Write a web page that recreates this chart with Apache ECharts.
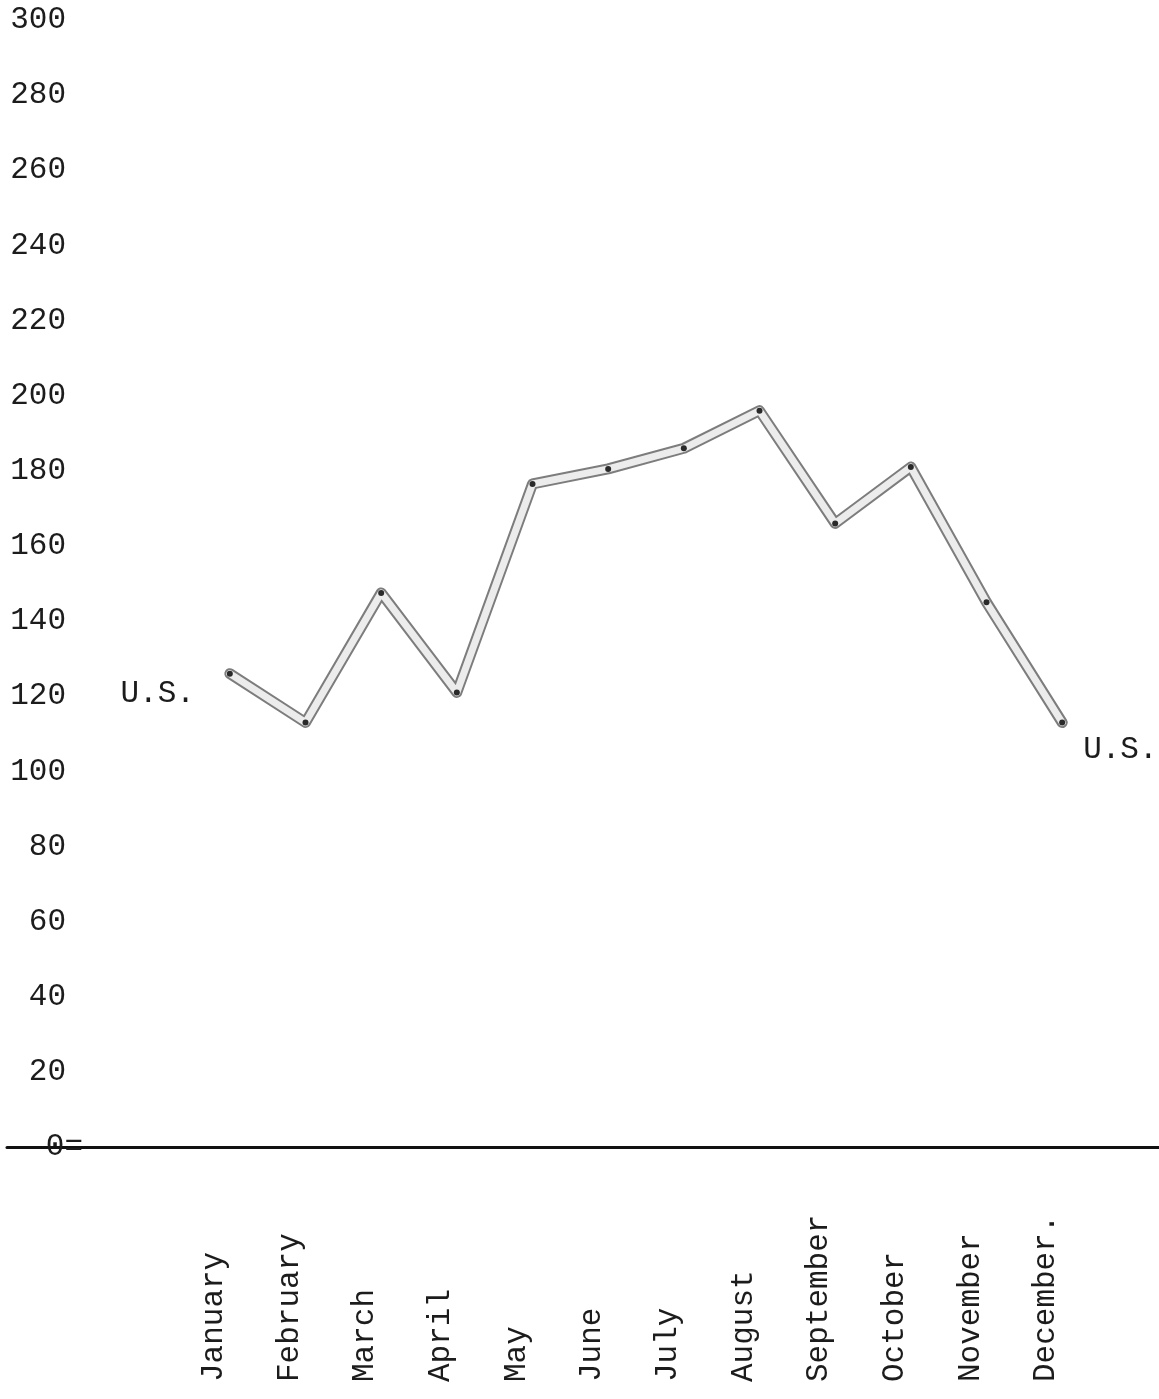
<!DOCTYPE html>
<html>
<head>
<meta charset="utf-8">
<script src="https://cdn.jsdelivr.net/npm/echarts@6/dist/echarts.min.js"></script>
<style>
  html, body { margin: 0; padding: 0; background: #fff; }
  #chart { width: 1159px; height: 1399px; }
</style>
</head>
<body>
<div id="chart"></div>
<script>
// months along the bottom, typed as in the original
const months = ['January', 'February', 'March', 'April', 'May', 'June',
  'July', 'August', 'September', 'October', 'November', 'December.'];

// U.S. monthly values
const usValues = [126, 113, 147.5, 121, 176.5, 180.5, 186, 196, 166, 181, 145, 113];

const seriesLabel = 'U.S.';

const yMin = 0;
const yMax = 300;
const yStep = 20;

const MONO = "'Liberation Mono', 'DejaVu Sans Mono', monospace";
const INK = '#1c1c1c';

const chart = echarts.init(document.getElementById('chart'));

// first and last point carry the "U.S." tag
const innerData = usValues.map((v, i) => {
  if (i === 0) {
    return {
      value: v,
      label: { show: true, position: 'left', distance: 32, offset: [0, 20], formatter: seriesLabel },
    };
  }
  if (i === usValues.length - 1) {
    return {
      value: v,
      label: { show: true, position: 'right', distance: 18, offset: [0, 27], formatter: seriesLabel },
    };
  }
  return v;
});

const option = {
  animation: false,
  backgroundColor: '#ffffff',
  textStyle: { fontFamily: MONO, color: INK },
  grid: [
    { left: 192, right: 59, top: 20, bottom: 252 },
    { left: 7, right: 0, top: 20, bottom: 252 },
  ],
  xAxis: [
    {
      type: 'category',
      gridIndex: 0,
      data: months,
      boundaryGap: true,
      axisLine: { show: false },
      axisTick: { show: false },
      splitLine: { show: false },
      axisLabel: {
        interval: 0,
        rotate: 90,
        margin: 20,
        color: INK,
        fontFamily: MONO,
        fontSize: 31,
        formatter: (v) => '{m|' + v + '}',
        rich: {
          m: {
            width: 215,
            align: 'left',
            padding: [0, 0, 32, 0],
            fontFamily: MONO,
            fontSize: 31,
            color: INK,
          },
        },
      },
    },
    {
      // the long base line across the sheet
      type: 'value',
      gridIndex: 1,
      min: 0,
      max: 1,
      axisLine: { show: true, lineStyle: { color: '#111', width: 3 } },
      axisTick: { show: false },
      axisLabel: { show: false },
      splitLine: { show: false },
    },
  ],
  yAxis: [
    {
      type: 'value',
      gridIndex: 0,
      min: yMin,
      max: yMax,
      interval: yStep,
      axisLine: { show: false },
      axisTick: { show: false },
      splitLine: { show: false },
      axisLabel: {
        margin: 109,
        color: INK,
        fontFamily: MONO,
        fontSize: 31,
        formatter: (v) => (v === 0 ? '{z|0=}' : '{n|' + v + '}'),
        rich: {
          n: { padding: [0, 17, 0, 0], fontFamily: MONO, fontSize: 31, color: INK },
          z: { fontFamily: MONO, fontSize: 31, color: INK },
        },
      },
    },
    { type: 'value', gridIndex: 1, show: false, min: 0, max: 1 },
  ],
  series: [
    {
      // outline of the hand-drawn band
      type: 'line',
      xAxisIndex: 0,
      yAxisIndex: 0,
      data: usValues,
      symbol: 'none',
      lineStyle: { color: '#7d7d7d', width: 11, cap: 'round', join: 'round' },
      z: 2,
    },
    {
      type: 'line',
      xAxisIndex: 0,
      yAxisIndex: 0,
      data: innerData,
      symbol: 'circle',
      symbolSize: 6,
      itemStyle: { color: '#2a2a2a' },
      lineStyle: { color: '#ececec', width: 7, cap: 'round', join: 'round' },
      label: { color: INK, fontFamily: MONO, fontSize: 31 },
      z: 3,
    },
  ],
};

chart.setOption(option);
</script>
</body>
</html>
